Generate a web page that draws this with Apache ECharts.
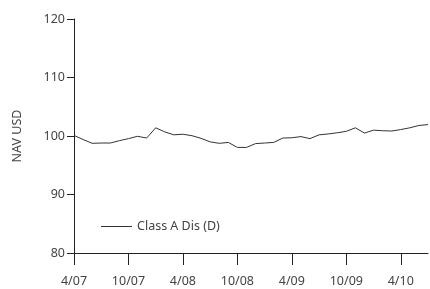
<!DOCTYPE html>
<html>
<head>
<meta charset="utf-8">
<script src="https://cdn.jsdelivr.net/npm/echarts@6/dist/echarts.min.js"></script>
<style>
  html, body { margin: 0; padding: 0; background: #fff; }
  #chart { width: 430px; height: 289px; }
</style>
</head>
<body>
<div id="chart"></div>
<script>
// months Apr 2007 .. Jul 2010
var months = [
  '4/07', '5/07', '6/07', '7/07', '8/07', '9/07', '10/07', '11/07', '12/07',
  '1/08', '2/08', '3/08', '4/08', '5/08', '6/08', '7/08', '8/08', '9/08', '10/08', '11/08', '12/08',
  '1/09', '2/09', '3/09', '4/09', '5/09', '6/09', '7/09', '8/09', '9/09', '10/09', '11/09', '12/09',
  '1/10', '2/10', '3/10', '4/10', '5/10', '6/10', '7/10'
];
var navValues = [
  100.1, 99.4, 98.75, 98.8, 98.8, 99.2, 99.55, 99.95, 99.65,
  101.4, 100.7, 100.2, 100.3, 100.05, 99.6, 99.0, 98.75, 98.9, 98.05, 98.05, 98.7,
  98.8, 98.9, 99.65, 99.7, 99.9, 99.55, 100.2, 100.35, 100.55, 100.8, 101.4, 100.5,
  101.0, 100.9, 100.85, 101.1, 101.4, 101.8, 101.95
];
var seriesName = 'Class A Dis (D)';
var yTicks = [80, 90, 100, 110, 120];

var chart = echarts.init(document.getElementById('chart'));
var txt = { color: '#444', fontFamily: 'Noto Sans', fontSize: 12.5 };

chart.setOption({
  animation: false,
  grid: { left: 74, right: 2, top: 19, bottom: 36 },
  legend: {
    left: 101, top: 220, padding: 0,
    icon: 'rect', itemWidth: 31, itemHeight: 1, itemGap: 8,
    textStyle: txt,
    data: [seriesName]
  },
  xAxis: {
    type: 'category',
    data: months,
    boundaryGap: false,
    axisLine: { lineStyle: { color: '#222', width: 1 } },
    axisTick: { show: true, interval: 5, length: 12, inside: false, lineStyle: { color: '#222' } },
    axisLabel: Object.assign({ interval: 5, margin: 22 }, txt),
    splitLine: { show: false }
  },
  yAxis: {
    type: 'value',
    min: yTicks[0], max: yTicks[yTicks.length - 1], interval: 10,
    name: 'NAV USD',
    nameLocation: 'middle',
    nameGap: 50,
    nameRotate: 90,
    nameTextStyle: txt,
    axisLine: { show: true, lineStyle: { color: '#222', width: 1 } },
    axisTick: { show: true, length: 7, lineStyle: { color: '#222' } },
    axisLabel: Object.assign({ margin: 9 }, txt),
    splitLine: { show: false }
  },
  series: [{
    name: seriesName,
    type: 'line',
    data: navValues,
    symbol: 'none',
    lineStyle: { color: '#333', width: 1 },
    itemStyle: { color: '#333' }
  }]
});
</script>
</body>
</html>
